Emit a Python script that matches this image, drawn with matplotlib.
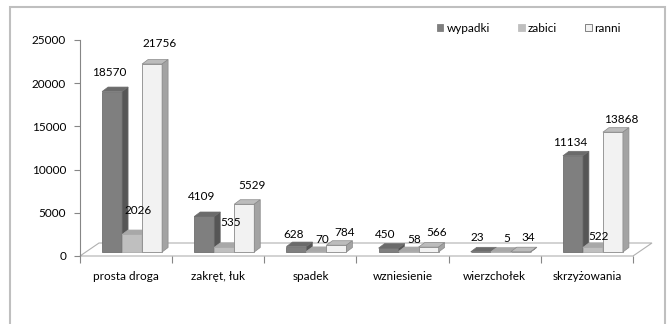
import matplotlib.pyplot as plt
from matplotlib.patches import Polygon, Rectangle, Patch

categories = ["prosta droga", "zakręt, łuk", "spadek", "wzniesienie", "wierzchołek", "skrzyżowania"]
series_names = ["wypadki", "zabici", "ranni"]
wypadki = [18570, 4109, 628, 450, 23, 11134]
zabici = [2026, 535, 70, 58, 5, 522]
ranni = [21756, 5529, 784, 566, 34, 13868]
y_ticks = [0, 5000, 10000, 15000, 20000, 25000]

plt.rcParams['font.family'] = ['Lato', 'DejaVu Sans']
plt.rcParams['font.size'] = 8.5

W, H, DPI = 668, 324, 100
fig = plt.figure(figsize=(W / DPI, H / DPI), dpi=DPI)
ax = fig.add_axes([80 / W, (H - 256) / H, (633 - 80) / W, (256 - 40) / H])
ax.set_xlim(-0.5, 5.5)
ax.set_ylim(0, 25000)

# size of one pixel in data units
px = 6 / (633 - 80)
py = 25000 / (256 - 40)

# 3d look: bars sit a bit back on the floor and have some depth
base_dx, base_dy = 6 * px, 4 * py
deep_dx, deep_dy = 6 * px, 4.5 * py
floor_dx, floor_dy = 19 * px, 13 * py
bar_w = 20 * px

styles = [
    dict(front='#7f7f7f', top='#6b6b6b', side='#565656', edge='#6e6e6e'),
    dict(front='#bfbfbf', top='#a8a8a8', side='#9c9c9c', edge='#ababab'),
    dict(front='#f2f2f2', top='#bcbcbc', side='#a3a3a3', edge='#8a8a8a'),
]
# label offsets in pixels (x per series, lift above bar top)
label_dx = [-3, 6, 8]
label_lift = [[19, 24, 21], [20, 25, 18.5], [12, 12, 13],
              [14, 11.5, 15], [14, 13, 14], [13, 10.5, 13]]

# floor
floor = Polygon([(-0.5, 0), (5.5, 0), (5.5 + floor_dx, floor_dy), (-0.5 + floor_dx, floor_dy)],
                closed=True, facecolor='white', edgecolor='#b0b0b0', lw=0.8, clip_on=False, zorder=1)
ax.add_patch(floor)

data = [wypadki, zabici, ranni]
for i in range(len(categories)):
    for s, vals in enumerate(data):
        v = vals[i]
        st = styles[s]
        x0 = i + (s - 1.5) * bar_w + base_dx
        x1 = x0 + bar_w
        y0 = base_dy
        y1 = base_dy + v
        ax.add_patch(Rectangle((x0, y0), bar_w, v, facecolor=st['front'],
                               edgecolor=st['edge'], lw=0.6, zorder=3, clip_on=False))
        ax.add_patch(Polygon([(x0, y1), (x1, y1), (x1 + deep_dx, y1 + deep_dy), (x0 + deep_dx, y1 + deep_dy)],
                             closed=True, facecolor=st['top'], edgecolor=st['edge'], lw=0.5,
                             zorder=3, clip_on=False))
        ax.add_patch(Polygon([(x1, y0), (x1 + deep_dx, y0 + deep_dy), (x1 + deep_dx, y1 + deep_dy), (x1, y1)],
                             closed=True, facecolor=st['side'], edgecolor=st['edge'], lw=0.5,
                             zorder=3, clip_on=False))
        ax.annotate(str(v), ((x0 + x1) / 2, y1), xytext=(label_dx[s] * 0.72, label_lift[i][s] * 0.72),
                    textcoords='offset points', ha='center', va='center',
                    color='black', zorder=5, annotation_clip=False)

# axes
for side in ['top', 'right', 'bottom']:
    ax.spines[side].set_visible(False)
ax.spines['left'].set_color('#868686')
ax.spines['left'].set_linewidth(0.8)
ax.set_yticks(y_ticks)
ax.set_yticklabels([str(t) for t in y_ticks])
ax.tick_params(axis='y', direction='out', length=4, width=0.8, color='#868686', pad=6)

ax.set_xticks([i - 0.5 for i in range(len(categories) + 1)])
ax.set_xticklabels([])
ax.tick_params(axis='x', which='major', direction='out', length=5, width=0.8, color='#868686')
ax.set_xticks(range(len(categories)), minor=True)
ax.set_xticklabels(categories, minor=True)
ax.tick_params(axis='x', which='minor', length=0, pad=11)
ax.patch.set_visible(False)

# legend
handles = [Patch(facecolor=styles[s]['front'], edgecolor=('#6e6e6e' if s == 2 else styles[s]['front']),
                 lw=0.6, label=series_names[s]) for s in range(3)]
fig.legend(handles=handles, loc='center right', bbox_to_anchor=(627 / W, 1 - 28 / H), ncol=3,
           frameon=False, borderpad=0, handlelength=0.55, handleheight=0.55,
           handletextpad=0.25, columnspacing=2.4)

# outer chart border
fig.add_artist(Rectangle((10 / W, -0.1), (665 - 10) / W, 0.1 + (H - 7) / H, transform=fig.transFigure,
                         fill=False, edgecolor='#bfbfbf', lw=1.5))

fig.savefig('out.png', dpi=DPI)
